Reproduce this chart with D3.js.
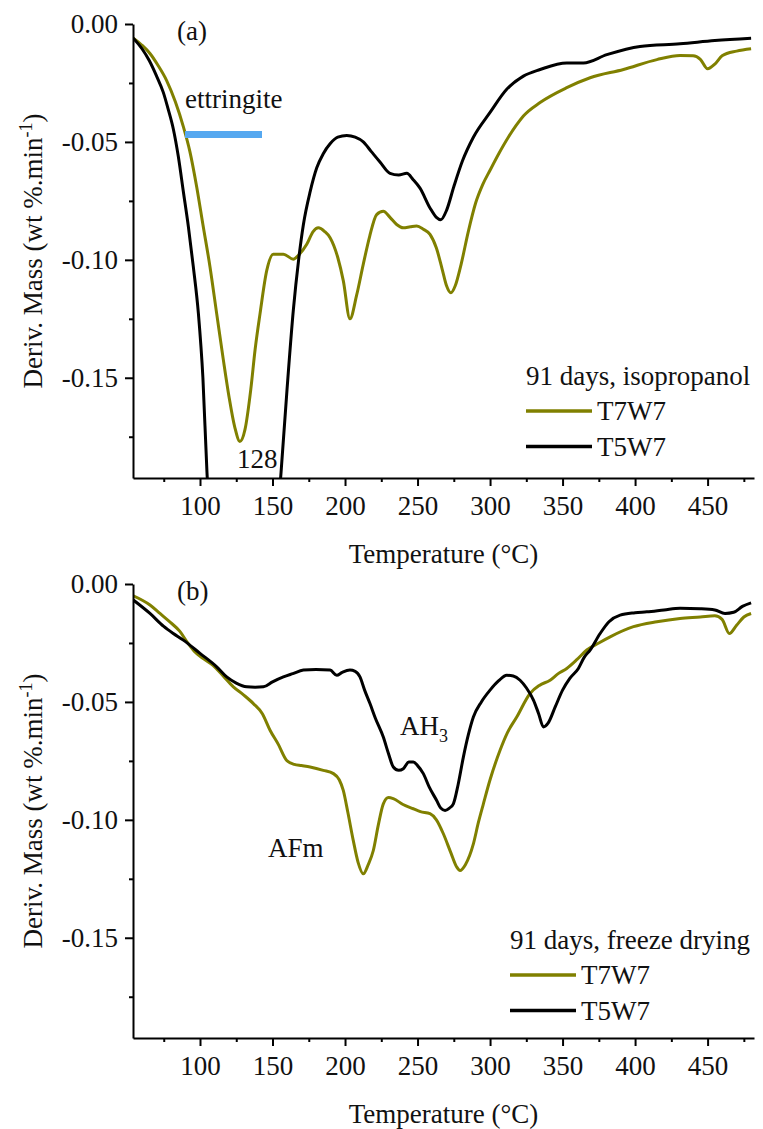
<!DOCTYPE html>
<html><head><meta charset="utf-8">
<script src="https://cdn.jsdelivr.net/npm/d3@7"></script>
<style>body{margin:0;background:#fff}text{font-family:"Liberation Serif","Times New Roman",serif;fill:#111}</style>
</head><body><svg id="c" width="763" height="1129"></svg>
<script>
// ---- data ----
const xTicks = [100,150,200,250,300,350,400,450];
const xMinor = [75,125,175,225,275,325,375,425,475];
const yTicks = [0,-0.05,-0.10,-0.15];
const yMinor = [-0.025,-0.075,-0.125,-0.175];
const seriesNames = ["T7W7","T5W7"];
const seriesColors = ["#808000","#000000"];

const aT7W7 = [[54,-0.006],[60,-0.009],[65.5,-0.0125],[71,-0.0175],[77,-0.024],[83,-0.033],[88.5,-0.0435],[93,-0.054],[97.7,-0.069],[102,-0.085],[106.9,-0.103],[111.5,-0.1228],[116,-0.142],[120,-0.158],[124,-0.171],[127.5,-0.177],[131,-0.172],[135,-0.155],[138,-0.138],[141.4,-0.1228],[146,-0.1046],[150.5,-0.0976],[157.5,-0.0976],[164.3,-0.0997],[168,-0.098],[173.6,-0.0934],[178,-0.088],[181.6,-0.0864],[186,-0.088],[189.7,-0.0906],[195,-0.099],[198.8,-0.1088],[203.4,-0.125],[208,-0.115],[212.6,-0.1018],[217,-0.09],[221.8,-0.0808],[226.4,-0.0794],[231,-0.082],[235.6,-0.085],[240.2,-0.0864],[245,-0.086],[249.4,-0.0857],[254,-0.087],[258.6,-0.0892],[263,-0.095],[267,-0.104],[270,-0.111],[273,-0.114],[276,-0.111],[280,-0.102],[285,-0.088],[290,-0.076],[295,-0.068],[300,-0.062],[306,-0.055],[312.6,-0.048],[318,-0.043],[323,-0.039],[334.5,-0.0333],[352.9,-0.027],[369,-0.0228],[392,-0.0193],[415,-0.0151],[431,-0.0134],[440,-0.0135],[445,-0.015],[450,-0.019],[455,-0.017],[460,-0.0135],[470,-0.0115],[480,-0.0105]];
const aT5W7 = [[54,-0.006],[60,-0.0105],[65,-0.0155],[70,-0.022],[74.7,-0.029],[78,-0.036],[81.6,-0.0445],[85,-0.056],[88.5,-0.071],[92,-0.086],[95.4,-0.103],[98.9,-0.1228],[102,-0.150],[104.8,-0.19],[108,-0.22],[115,-0.25],[130,-0.27],[145,-0.25],[152,-0.22],[155.9,-0.19],[160,-0.155],[164.4,-0.121],[168,-0.10],[171.3,-0.085],[176,-0.071],[180.5,-0.061],[185,-0.055],[189.7,-0.0508],[195,-0.048],[201.2,-0.0473],[207,-0.048],[212.6,-0.050],[218,-0.054],[224.1,-0.0585],[231,-0.0633],[237,-0.064],[242.6,-0.0633],[247,-0.066],[251.7,-0.0696],[258.6,-0.078],[263,-0.082],[266,-0.083],[270,-0.079],[275,-0.069],[281,-0.058],[288.5,-0.048],[300,-0.0375],[311.5,-0.0277],[323,-0.0221],[334.5,-0.0193],[352.9,-0.0165],[364.4,-0.0165],[380.5,-0.013],[403.4,-0.0095],[431,-0.0084],[455,-0.007],[480,-0.006]];
const bT7W7 = [[54,-0.005],[65.5,-0.0089],[72.4,-0.0125],[80,-0.0165],[86,-0.020],[91,-0.0245],[96,-0.0285],[102,-0.0315],[109,-0.0345],[116,-0.039],[123,-0.0436],[130,-0.047],[136.8,-0.0507],[143,-0.055],[148.3,-0.062],[154,-0.068],[159.8,-0.0748],[165,-0.0765],[170,-0.077],[175.9,-0.0776],[185,-0.079],[192,-0.0804],[196,-0.083],[198.8,-0.0875],[202,-0.097],[205.7,-0.1088],[209,-0.118],[212.6,-0.1229],[216,-0.119],[219.5,-0.113],[223,-0.102],[226.4,-0.0932],[230,-0.0905],[233.3,-0.091],[240,-0.0935],[247.1,-0.0953],[252,-0.0965],[258.6,-0.0974],[263,-0.100],[267.8,-0.1059],[273,-0.114],[277,-0.12],[279.3,-0.1215],[283,-0.119],[288.5,-0.1102],[292,-0.101],[295.4,-0.0932],[300,-0.083],[306.9,-0.0705],[312,-0.063],[318.4,-0.0564],[327.6,-0.0464],[334,-0.043],[341.4,-0.0408],[347,-0.038],[352.9,-0.0358],[360,-0.032],[366.7,-0.028],[375,-0.025],[382.8,-0.0224],[398.9,-0.0181],[415,-0.016],[431,-0.0146],[445,-0.014],[455,-0.0135],[460,-0.015],[465,-0.021],[470,-0.0175],[475,-0.014],[480,-0.0125]];
const bT5W7 = [[54,-0.0068],[65.5,-0.0125],[75,-0.018],[81.6,-0.021],[88.5,-0.0238],[100,-0.0294],[111.5,-0.0351],[118.4,-0.0394],[125,-0.042],[132.2,-0.0436],[138,-0.0438],[143.7,-0.0436],[150,-0.0415],[157.5,-0.0394],[164,-0.038],[171.3,-0.0365],[180,-0.0362],[189.7,-0.0365],[194.3,-0.0387],[198,-0.0375],[203.4,-0.0365],[207,-0.037],[210.3,-0.0394],[213.5,-0.045],[217.2,-0.0507],[221,-0.057],[226.4,-0.0649],[230,-0.072],[233.3,-0.0776],[237,-0.079],[240.2,-0.0783],[244,-0.0755],[247.1,-0.0755],[250,-0.077],[254,-0.0804],[258,-0.086],[263.2,-0.0918],[266,-0.095],[269,-0.096],[272,-0.095],[274.7,-0.0932],[278,-0.085],[281.6,-0.0734],[285,-0.064],[288.5,-0.0564],[294,-0.050],[300,-0.045],[306,-0.041],[311.5,-0.0387],[316,-0.039],[320.7,-0.0408],[325,-0.044],[330,-0.0493],[333.5,-0.055],[336.8,-0.0606],[340,-0.059],[345,-0.052],[350,-0.045],[355,-0.040],[360.9,-0.0358],[365,-0.031],[369,-0.028],[375.9,-0.021],[382,-0.016],[389.7,-0.0132],[400,-0.0122],[408.1,-0.0118],[420,-0.011],[431,-0.0103],[445,-0.0105],[455,-0.011],[462,-0.0125],[468,-0.012],[474,-0.0095],[480,-0.008]];

const panels = [
  {id:"a", label:"(a)", series:[aT7W7,aT5W7], legendTitle:"91 days, isopropanol"},
  {id:"b", label:"(b)", series:[bT7W7,bT5W7], legendTitle:"91 days, freeze drying"}
];

// ---- drawing ----
const svg = d3.select("#c");
svg.append("rect").attr("width",763).attr("height",1129).attr("fill","#fff");
const L=133, R=754, panelH=454, tops=[24,584];
const x = d3.scaleLinear().domain([53.8,482]).range([L,R]);
const FS = 27;

panels.forEach((p,i)=>{
  const top=tops[i], bot=top+panelH;
  const y = d3.scaleLinear().domain([-0.1925,0]).range([bot,top]);
  const g = svg.append("g");
  const clipId="clip"+p.id;
  svg.append("defs").append("clipPath").attr("id",clipId).append("rect")
    .attr("x",L).attr("y",top-5).attr("width",R-L+9).attr("height",panelH+5);

  const line = d3.line().x(d=>x(d[0])).y(d=>y(d[1])).curve(d3.curveMonotoneX);
  p.series.forEach((s,k)=>{
    g.append("path").attr("d",line(s)).attr("fill","none")
      .attr("stroke",seriesColors[k]).attr("stroke-width",3)
      .attr("stroke-linejoin","round").attr("clip-path","url(#"+clipId+")");
  });

  // axes
  const fmt = d => d===0 ? "0.00" : "-" + Math.abs(d).toFixed(2);
  g.append("g").attr("transform",`translate(${L},0)`)
    .call(d3.axisLeft(y).tickValues(yTicks).tickFormat(fmt).tickSize(8).tickPadding(7).tickSizeOuter(0));
  g.append("g").attr("transform",`translate(${L},0)`)
    .call(d3.axisLeft(y).tickValues(yMinor).tickFormat("").tickSize(4).tickSizeOuter(0))
    .select(".domain").remove();
  g.append("g").attr("transform",`translate(0,${bot})`)
    .call(d3.axisBottom(x).tickValues(xTicks).tickSize(8).tickPadding(10).tickSizeOuter(0));
  g.append("g").attr("transform",`translate(0,${bot})`)
    .call(d3.axisBottom(x).tickValues(xMinor).tickFormat("").tickSize(4).tickSizeOuter(0))
    .select(".domain").remove();
  g.selectAll(".domain").attr("stroke","#000").attr("stroke-width",2);
  g.selectAll(".tick line").attr("stroke","#000").attr("stroke-width",2);
  g.selectAll(".tick text").attr("font-size",FS).attr("font-family","Liberation Serif").attr("fill","#111");

  // axis titles
  g.append("text").attr("x",(L+R)/2).attr("y",bot+85).attr("text-anchor","middle")
    .attr("font-size",FS).text("Temperature (°C)");
  const yt = g.append("text").attr("transform",`translate(42,${(top+bot)/2}) rotate(-90)`)
    .attr("text-anchor","middle").attr("font-size",FS);
  yt.append("tspan").text("Deriv. Mass (wt %.min");
  yt.append("tspan").attr("dy",-10).attr("font-size",18).text("-1");
  yt.append("tspan").attr("dy",10).text(")");

  // panel label
  g.append("text").attr("x",177).attr("y",top+16).attr("font-size",FS).text(p.label);

  // legend
  const lx = i===0?526:510, ly = i===0?top+361:top+365;
  g.append("text").attr("x",lx).attr("y",ly).attr("font-size",FS).text(p.legendTitle);
  seriesNames.forEach((n,k)=>{
    const yy = ly + 26 + k*35.5;
    g.append("line").attr("x1",lx).attr("x2",lx+66).attr("y1",yy).attr("y2",yy)
      .attr("stroke",seriesColors[k]).attr("stroke-width",3.5);
    g.append("text").attr("x",lx+71).attr("y",yy+9).attr("font-size",FS).text(n);
  });
});

// annotations
svg.append("line").attr("x1",185).attr("x2",262).attr("y1",134.5).attr("y2",134.5)
  .attr("stroke","#55a8f0").attr("stroke-width",7);
svg.append("text").attr("x",185).attr("y",108).attr("font-size",FS).text("ettringite");
svg.append("text").attr("x",237).attr("y",468).attr("font-size",FS).text("128");
const ah = svg.append("text").attr("x",400).attr("y",735).attr("font-size",FS);
ah.append("tspan").text("AH");
ah.append("tspan").attr("dy",7).attr("font-size",18).text("3");
svg.append("text").attr("x",268).attr("y",857).attr("font-size",FS).text("AFm");
</script></body></html>
